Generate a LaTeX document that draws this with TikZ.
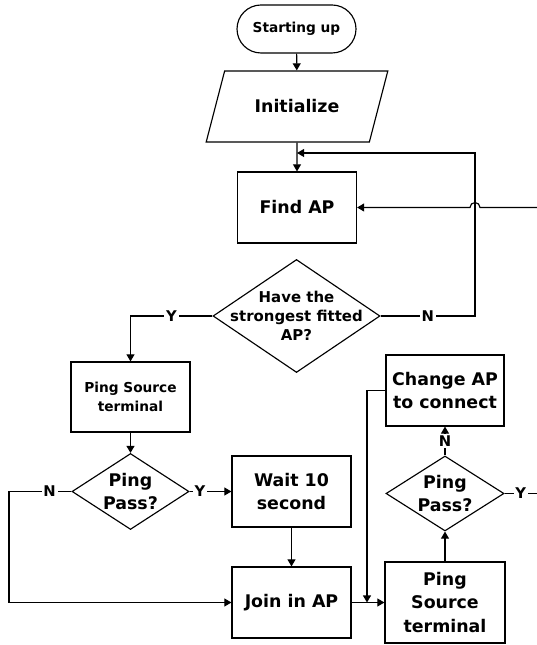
\documentclass[tikz,border=0pt]{standalone}
\usepackage{fontspec}
\setmainfont{DejaVu Sans}
\usetikzlibrary{arrows.meta,positioning,calc,shapes.geometric}
\newcommand\bigtxt{\bfseries\fontsize{9.9}{13.4}\selectfont}
\newcommand\smalltxt{\bfseries\fontsize{7.8}{10.8}\selectfont}
\newcommand\fittxtfont{\bfseries\fontsize{8.5}{10.8}\selectfont}
\newcommand\yntxt{\bfseries\fontsize{8.4}{9}\selectfont}

\begin{document}
\begin{tikzpicture}[
  line width=0.65pt,
  box/.style={draw, minimum width=2.38cm, minimum height=1.42cm, align=center,
              inner sep=1pt, font=\bigtxt},
  dec/.style={draw, diamond, inner sep=0pt},
  arrow/.style={-{Triangle[length=4pt,width=4.5pt]}},
  yn/.style={fill=white, inner sep=1pt, font=\yntxt},
]
\useasboundingbox (0,0) rectangle (10.74,12.9);
\node[draw, rounded corners=0.48cm, minimum width=2.38cm, minimum height=0.96cm,
      font=\smalltxt] (start) at (5.93, 12.32) {Starting up};
\node[draw, trapezium, trapezium left angle=64, trapezium right angle=116,
      trapezium stretches=true, minimum width=3.64cm, minimum height=1.42cm,
      font=\bigtxt] (init) at (5.94, 10.77) {Initialize};
\node[box] (find) at (5.94, 8.75) {Find AP};
\node[dec, minimum width=3.34cm, minimum height=2.26cm] (fit) at (5.93, 6.58) {};
\node[font=\fittxtfont, align=center] (fittxt) at (fit) {Have the\\strongest fitted\\AP?};
\node[box, font=\smalltxt, minimum height=1.40cm] (pingl) at (2.61, 4.96) {Ping Source\\terminal};
\node[dec, minimum width=2.34cm, minimum height=1.52cm] (passl) at (2.61, 3.07) {};
\node[font=\bigtxt, align=center] (passltxt) at (passl) {Ping\\Pass?};
\node[box] (wait) at (5.83, 3.07) {Wait 10\\second};
\node[box] (join) at (5.83, 0.85) {Join in AP};
\node[box, minimum width=2.4cm, minimum height=1.62cm] (pingr) at (8.9, 0.85)
  {Ping\\Source\\terminal};
\node[dec, minimum width=2.36cm, minimum height=1.5cm] (passr) at (8.9, 3.03) {};
\node[font=\bigtxt, align=center] (passrtxt) at (passr) {Ping\\Pass?};
\node[box, minimum width=2.36cm] (change) at (8.9, 5.09) {Change AP\\to connect};
% corners and free ends
\coordinate (back) at (9.5, 9.84);
\coordinate (inlet) at (10.74, 8.75);
\coordinate (yout) at (10.74, 3.03);
\coordinate (leftx) at (0.18, 0);
\coordinate (drop) at (7.34, 0.85);
\draw[arrow] (start) -- (init);
\draw[arrow] (init) -- (find);
\draw[arrow] (fit.east) -- node[yn]{N} (fit.east -| back) -- (back) -- (back -| find.north);
\draw[arrow] (inlet) -- ($(inlet -| back)+(0.1,0)$) arc[start angle=0, end angle=180, radius=0.1]
  -- (find.east);
\draw[arrow] (fit.west) -- node[yn]{Y} (fit.west -| pingl.north) -- (pingl.north);
\draw[arrow] (pingl) -- (passl);
\draw[arrow] (passl) -- node[yn, pos=0.25]{Y} (wait);
\draw[arrow] (passl.west) -- node[yn, pos=0.35]{N} (passl.west -| leftx) |- (join.west);
\draw[arrow] (wait) -- (join);
\draw[arrow] (join) -- (pingr);
\draw[arrow] (change.west) -| (drop);
\draw[arrow] (pingr) -- (passr);
\draw[arrow] (passr) -- node[yn]{N} (change);
\draw (passr.east) -- node[yn, pos=0.5]{Y} (yout);
\end{tikzpicture}
\end{document}
